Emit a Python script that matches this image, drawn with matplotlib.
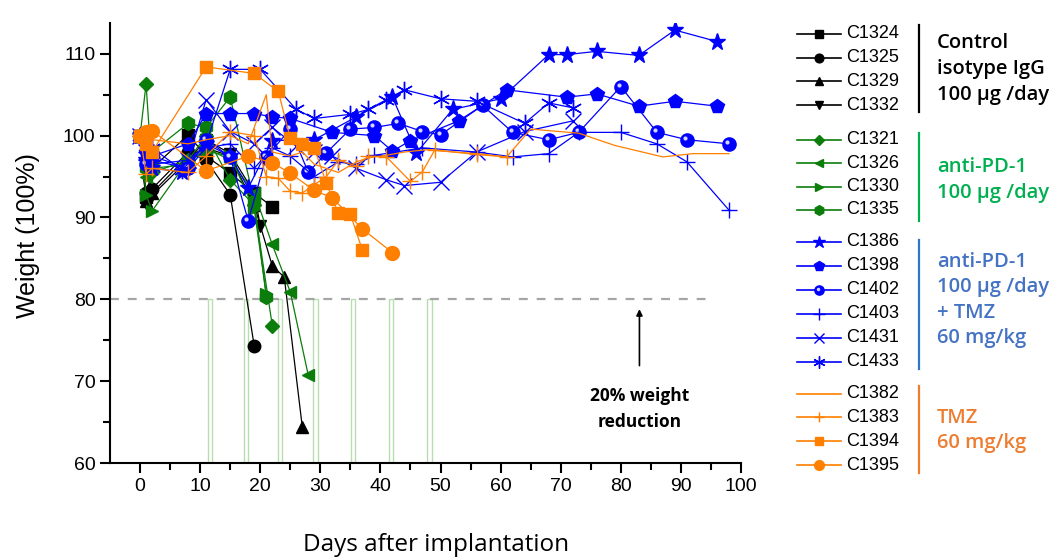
import matplotlib
matplotlib.use("Agg")
import matplotlib.pyplot as plt
from matplotlib.lines import Line2D
from matplotlib.transforms import offset_copy

plt.rcParams["font.family"] = ["Liberation Sans", "DejaVu Sans"]

W, H = 1061, 560

# ---------------- data ----------------
# control, isotype IgG
c1324_d = [0, 1, 2, 8, 11, 15, 19, 22]
c1324_w = [100, 92.5, 96, 100.1, 97.5, 95.4, 93, 91.3]
c1325_d = [0, 1, 2, 8, 11, 15, 19]
c1325_w = [100, 93, 93.5, 98, 97, 92.8, 74.3]
c1329_d = [0, 1, 2, 8, 11, 15, 19, 22, 24, 27]
c1329_w = [100, 92, 93, 97.5, 98.5, 97.5, 91.5, 84.1, 82.7, 64.4]
c1332_d = [0, 1, 2, 8, 11, 15, 19, 20]
c1332_w = [100, 91.8, 92.7, 97, 99.5, 97.8, 93, 89]

# anti-PD-1
c1321_d = [0, 1, 2, 8, 11, 15, 19, 22]
c1321_w = [100, 106.3, 95.5, 97, 100, 94.6, 91.5, 76.8]
c1326_d = [0, 1, 2, 8, 11, 15, 19, 22, 25, 28]
c1326_w = [100, 95, 96, 96.5, 98.5, 97, 93, 86.7, 80.9, 70.7]
c1330_d = [0, 1, 2, 8, 11, 15, 19, 21]
c1330_w = [100, 92.8, 90.8, 97, 98.1, 97.5, 91, 80.7]
c1335_d = [0, 1, 2, 8, 11, 15, 19, 21]
c1335_w = [100, 96, 98, 101.5, 101, 104.7, 92, 80.3]

# anti-PD-1 + TMZ
c1386_d = [0, 1, 2, 7, 11, 15, 18, 22, 29, 36, 42, 46, 52, 60, 68, 71, 76, 83, 89, 96]
c1386_w = [100, 97, 96, 95.6, 99, 97.5, 93.6, 99.4, 99.5, 102.3, 104.7, 97.9, 103.2,
           104.5, 109.9, 109.9, 110.3, 109.8, 112.9, 111.5]
c1398_d = [0, 1, 2, 8, 11, 15, 19, 22, 25, 32, 39, 42, 45, 53, 61, 71, 76, 83, 89, 96]
c1398_w = [100, 98, 97.5, 99, 102.7, 102.7, 102.7, 102.3, 102.1, 100.4, 100, 98.1, 99.4,
           101.8, 105.6, 104.7, 105.1, 103.6, 104.2, 103.6]
c1402_d = [0, 1, 2, 8, 11, 15, 18, 21, 25, 28, 31, 35, 39, 43, 47, 50, 57, 62, 68, 73,
           80, 86, 91, 98]
c1402_w = [100, 96.5, 97.5, 96, 99.5, 97.4, 89.6, 97.4, 100.8, 95.5, 97.9, 100.8, 101,
           101.5, 100.5, 100.1, 103.7, 100.4, 99.5, 100.4, 106, 100.4, 99.5, 99]
c1403_d = [0, 1, 2, 8, 11, 15, 19, 22, 25, 29, 33, 36, 39, 47, 56, 62, 68, 73, 80, 86,
           91, 98]
c1403_w = [100, 98, 97, 96, 98.5, 99, 96, 98.5, 97.5, 95, 96.8, 96.5, 97.6, 98.5, 98,
           97.4, 97.8, 100.4, 100.4, 99, 96.8, 90.9]
c1431_d = [0, 1, 2, 8, 11, 15, 19, 22, 26, 29, 32, 36, 41, 44, 50, 56, 64, 72]
c1431_w = [100, 98, 96.5, 97, 104.4, 100.5, 99, 101, 98.7, 98, 97.5, 96, 94.6, 93.9,
           94.3, 98, 100.5, 101.8]
c1433_d = [0, 1, 2, 7, 11, 15, 20, 26, 29, 35, 38, 41, 44, 50, 56, 64, 68, 72]
c1433_w = [100, 97.5, 98.5, 95.8, 99, 108.1, 108.1, 103.2, 102.1, 102.6, 103.2, 104.4,
           105.6, 104.5, 104.2, 101.5, 104, 103.4]

# TMZ
c1382_d = [0, 1, 2, 8, 11, 15, 18, 21, 22, 25, 27, 29, 31, 33, 36, 38, 41, 44, 48, 56,
           61, 65, 73, 79, 87, 92, 98]
c1382_w = [100, 100.5, 99.5, 99, 99.5, 100, 99, 105, 98, 97.5, 98, 96.5, 96, 95.5, 96.8,
           97.3, 97.6, 98, 98.3, 97.7, 97.4, 100.8, 100.3, 98.8, 97.4, 97.8, 97.8]
c1383_d = [0, 1, 2, 8, 11, 15, 19, 21, 23, 25, 27, 29, 31, 33, 36, 38, 41, 45, 47, 49,
           56, 61]
c1383_w = [100, 95.3, 96, 95.5, 97.5, 100.5, 100, 95, 94.8, 93.2, 93, 94, 95, 97, 96.3,
           97.5, 97.4, 94.4, 95.6, 98.2, 97.8, 97.4]
c1394_d = [0, 1, 2, 11, 19, 23, 25, 27, 29, 31, 33, 35, 37]
c1394_w = [100, 99, 98, 108.4, 107.6, 105.4, 99.7, 99, 98.5, 94.2, 90.5, 90.4, 86]
c1395_d = [0, 1, 2, 11, 18, 22, 25, 29, 32, 37, 42]
c1395_w = [100, 100.5, 100.6, 95.7, 97.5, 96.7, 95.4, 93.3, 92.4, 88.6, 85.7]

# treatment days (light green bars below the 80% line)
treat_days = [11.65, 17.65, 23.3, 29.2, 35.45, 41.8, 48.2]
threshold = 80

BLACK = "#000000"
GREEN = "#0a7d0a"
BLUE = "#0000ff"
ORANGE = "#ff7f00"

# (name, days, weights, colour, marker, size)
series = [
    ("C1324", c1324_d, c1324_w, BLACK, "s", 8),
    ("C1325", c1325_d, c1325_w, BLACK, "o", 9),
    ("C1329", c1329_d, c1329_w, BLACK, "^", 9),
    ("C1332", c1332_d, c1332_w, BLACK, "v", 9),
    ("C1321", c1321_d, c1321_w, GREEN, "D", 7.5),
    ("C1326", c1326_d, c1326_w, GREEN, "<", 9),
    ("C1330", c1330_d, c1330_w, GREEN, ">", 9),
    ("C1335", c1335_d, c1335_w, GREEN, "h", 10),
    ("C1386", c1386_d, c1386_w, BLUE, "*", 12.5),
    ("C1398", c1398_d, c1398_w, BLUE, "p", 10),
    ("C1402", c1402_d, c1402_w, BLUE, "o", 9.5),
    ("C1403", c1403_d, c1403_w, BLUE, "+", 12),
    ("C1431", c1431_d, c1431_w, BLUE, "x", 11),
    ("C1433", c1433_d, c1433_w, BLUE, (6, 2, 0), 12.5),
    ("C1382", c1382_d, c1382_w, ORANGE, "None", 0),
    ("C1383", c1383_d, c1383_w, ORANGE, "+", 11),
    ("C1394", c1394_d, c1394_w, ORANGE, "s", 9),
    ("C1395", c1395_d, c1395_w, ORANGE, "o", 10),
]

fig = plt.figure(figsize=(W / 100, H / 100), dpi=100)
ax = fig.add_axes([110 / W, 1 - 463 / H, 631 / W, (463 - 22.7) / H])

# treatment bars
ax.bar(treat_days, [threshold - 60] * len(treat_days), bottom=60, width=0.75,
       fill=False, edgecolor="#b9ddb0", linewidth=1.0, zorder=1)

# 80% line
ax.plot([-5, 94.2], [threshold, threshold], color="#a6a6a6", lw=1.6,
        dashes=(4, 4), zorder=1)

# small highlight so the C1402 markers look like shaded spheres
hl = offset_copy(ax.transData, fig=fig, x=-2, y=2, units="dots")
for name, d, w, col, mk, ms in series:
    ax.plot(d, w, color=col, lw=0.9, marker=mk, ms=ms, mew=1, mec=col,
            mfc=col, zorder=3)
    if name == "C1402":
        ax.plot(d, w, ls="none", marker="o", ms=3, mfc="#d4d4ff", mec="none",
                transform=hl, zorder=3)

ax.annotate("", xy=(83.1, 78.8), xytext=(83.1, 71.9),
            arrowprops=dict(arrowstyle="-|>", color="black", lw=1.2,
                            mutation_scale=9, shrinkA=0, shrinkB=0))
ax.text(83.1, 68.2, "20% weight", ha="center", va="center", fontsize=12.5,
        fontweight="bold", family=["Open Sans", "DejaVu Sans"])
ax.text(83.1, 65.0, "reduction", ha="center", va="center", fontsize=12.5,
        fontweight="bold", family=["Open Sans", "DejaVu Sans"])

ax.set_xlim(-5, 100)
ax.set_ylim(60, 113.8)
ax.set_xticks(range(0, 101, 10))
ax.set_xticks(range(5, 100, 10), minor=True)
ax.set_yticks(range(60, 111, 10))
ax.set_yticks(range(65, 111, 10), minor=True)
for s in ("top", "right"):
    ax.spines[s].set_visible(False)
for s in ("left", "bottom"):
    ax.spines[s].set_linewidth(1.5)
ax.tick_params(which="major", direction="out", length=7, width=1.5, labelsize=14)
ax.tick_params(which="minor", direction="out", length=5, width=1.5)

fig.text(28 / W, 1 - 236 / H, "Weight (100%)", rotation=90, ha="center",
         va="center", fontsize=18)
fig.text(436 / W, 1 - 545 / H, "Days after implantation", ha="center",
         va="center", fontsize=17.5, family=["Open Sans", "DejaVu Sans"])

# ---------------- hand-made legend ----------------
row_y = [34, 58, 81, 105, 140, 163, 187, 210, 242, 266, 290, 314, 338, 362,
         394, 417, 441, 465]
for (name, d, w, col, mk, ms), yy in zip(series, row_y):
    fy = 1 - yy / H
    fig.add_artist(Line2D([797 / W, 841 / W], [fy, fy], color=col, lw=1.2,
                          transform=fig.transFigure))
    if mk != "None":
        fig.add_artist(Line2D([819 / W], [fy], color=col, marker=mk,
                              ms=ms * 0.7, mew=1, mfc=col, mec=col,
                              transform=fig.transFigure))
    if name == "C1402":
        fig.add_artist(Line2D([818 / W], [fy + 1.2 / H], ls="none", marker="o",
                              ms=2.5, mfc="#d4d4ff", mec="none",
                              transform=fig.transFigure))
    fig.text(846 / W, fy, name, ha="left", va="center", fontsize=13)

groups = [
    ("#000000", "#000000", (25, 112), [("Control", 43), ("isotype IgG", 69),
                                        ("100 µg /day", 95)]),
    ("#00b050", "#00b050", (133, 221), [("anti-PD-1", 167), ("100 µg /day", 193)]),
    ("#2e75c8", "#4472c4", (240, 369), [("anti-PD-1", 262), ("100 µg /day", 287),
                                        ("+ TMZ", 313), ("60 mg/kg", 338)]),
    ("#ed7d31", "#ed7d31", (386, 473), [("TMZ", 418), ("60 mg/kg", 443)]),
]
for bar_col, txt_col, (y0, y1), lines in groups:
    fig.add_artist(Line2D([918.5 / W, 918.5 / W], [1 - y0 / H, 1 - y1 / H],
                          color=bar_col, lw=1.6, transform=fig.transFigure))
    for txt, yy in lines:
        fig.text(937 / W, 1 - yy / H, txt, ha="left", va="center",
                 fontsize=14.5, fontweight="semibold", color=txt_col,
                 family=["Open Sans", "DejaVu Sans"])

fig.savefig("out.png", dpi=100)
